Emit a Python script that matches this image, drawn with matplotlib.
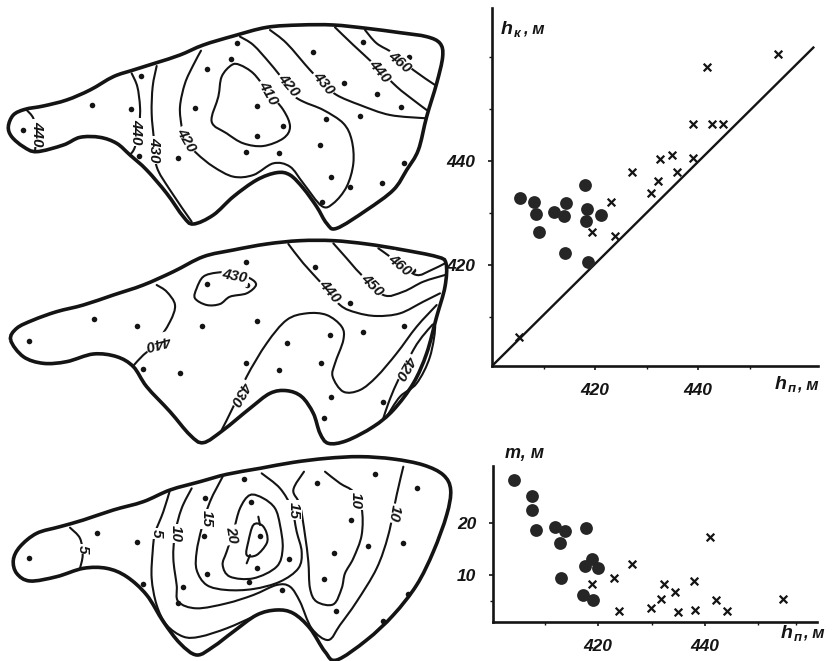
import matplotlib
matplotlib.use("Agg")
import matplotlib.pyplot as plt
import numpy as np
from matplotlib.path import Path
from matplotlib.patches import PathPatch

W, H = 833, 661
INK = "#141414"
FONT = "Liberation Sans"

# ---- scatter data ----
hn_cross_top = [455.5, 441.8, 439.0, 442.7, 444.9, 432.6, 434.9, 439.0, 427.1, 436.0, 432.2, 430.8, 423.2, 419.4, 423.9, 405.2]
hk_cross_top = [460.5, 458.1, 447.2, 447.2, 447.2, 440.4, 441.1, 440.5, 437.9, 437.9, 436.2, 433.8, 432.2, 426.3, 425.6, 406.2]
hn_dot_top = [405.4, 408.1, 408.6, 409.1, 412.1, 414.3, 414.0, 414.2, 418.5, 418.2, 421.2, 418.6, 418.1]
hk_dot_top = [432.95, 432.05, 429.8, 426.4, 430.1, 431.9, 429.5, 422.4, 430.7, 428.5, 429.7, 420.6, 435.3]

hn_cross_bot = [426.4, 422.9, 418.85, 423.85, 429.9, 431.8, 432.4, 434.4, 435.0, 438.0, 438.2, 440.9, 442.0, 444.1, 454.7]
m_cross_bot = [12.1, 9.4, 8.4, 3.25, 3.8, 5.5, 8.4, 6.8, 3.05, 8.9, 3.4, 17.2, 5.2, 3.1, 5.5]
hn_dot_bot = [404.3, 407.7, 407.7, 408.35, 412.0, 413.8, 412.85, 417.8, 413.0, 418.85, 417.5, 420.0, 417.2, 419.1]
m_dot_bot = [28.15, 25.0, 22.5, 18.65, 19.2, 18.5, 16.2, 18.9, 9.4, 13.05, 11.7, 11.3, 6.3, 5.3]

# ---- map 1 ----
m1_outline = [(25,320),(40,285),(75,268),(130,258),(200,240),(270,210),(340,170),(400,150),(470,128),(540,105),(610,75),(700,48),(800,22),(900,15),(1000,15),(1100,25),(1200,38),(1280,50),(1320,70),(1328,110),(1310,190),(1280,290),(1255,390),(1220,450),(1180,510),(1100,570),(1010,625),(980,610),(950,560),(910,505),(870,465),(830,458),(770,480),(700,530),(640,585),(580,612),(550,590),(500,520),(440,450),(390,405),(350,370),(300,352),(240,352),(190,375),(110,395),(70,380),(35,350)]
m1_contours = [
    [(80,270),(100,295),(108,340),(105,395)],
    [(395,160),(412,200),(420,260),(418,310),(405,380),(390,405)],
    [(470,138),(458,200),(455,280),(462,360),(470,440),(510,510),(575,605)],
    [(603,92),(580,135),(555,190),(540,260),(545,320),(555,360),(590,400),(640,440),(700,470),(760,465),(820,430),(870,440),(910,490),(965,558),(1000,550),(1040,500),(1060,430),(1055,360),(1030,310),(970,270),(910,245),(880,225),(850,180),(810,130),(760,75),(720,50)],
    [(810,30),(860,70),(930,150),(970,190),(1010,225),(1080,255),(1170,285),(1280,295)],
    [(1005,22),(1060,75),(1130,140),(1190,200),(1240,240),(1280,270)],
    [(1095,30),(1130,70),(1180,100),(1240,150),(1305,195)],
]
m1_closed = [[(695,135),(665,170),(655,230),(635,305),(680,340),(730,370),(790,378),(850,355),(870,320),(850,270),(800,210),(760,160),(720,135)]]
m1_labels = [("440",112,340,-90),("440",410,335,-90),("430",462,390,-90),("420",558,360,-60),("420",865,197,-50),("410",805,218,-60),("430",970,190,-50),("440",1140,155,-50),("460",1198,125,-40)]
m1_points = [(710,70),(938,97),(1090,65),(1227,110),(620,147),(693,117),(423,167),(275,255),(393,267),(585,263),(770,257),(1032,188),(1132,222),(1202,262),(1080,287),(978,298),(848,318),(771,349),(70,330),(960,375),(738,395),(838,400),(416,408),(535,413),(1213,428),(992,470),(1147,490),(1050,500),(965,545)]

# ---- map 2 ----
m2_outline = [(32,330),(50,295),(100,270),(170,245),(250,225),(340,195),(430,165),(520,125),(610,80),(700,60),(800,42),(900,32),(1000,32),(1100,42),(1200,58),(1310,80),(1338,100),(1335,170),(1310,260),(1280,370),(1240,460),(1180,540),(1120,590),(1040,632),(985,640),(960,610),(940,550),(905,500),(860,482),(810,490),(750,535),(670,600),(610,638),(570,615),(510,545),(440,470),(400,410),(350,380),(280,372),(200,395),(130,400),(70,380)]
m2_contours = [
    [(470,165),(500,185),(525,225),(510,275),(465,345),(430,375),(402,405)],
    [(665,600),(700,530),(740,440),(800,340),(860,270),(920,250),(980,255),(1025,290),(1030,330),(1005,400),(998,440),(1030,485),(1080,480),(1130,440),(1190,370),(1250,290),(1310,225)],
    [(865,42),(910,100),(960,155),(1020,225),(1070,248),(1130,258),(1200,250),(1270,215),(1320,190)],
    [(1000,40),(1040,85),(1080,130),(1150,195),(1210,185),(1270,155),(1335,135)],
    [(1135,55),(1170,80),(1200,105),(1250,135),(1290,122),(1335,100)],
    [(1150,565),(1165,520),(1190,460),(1240,360),(1275,310),(1305,285),(1290,380),(1250,460),(1200,500),(1160,560)],
]
m2_closed = [[(610,140),(590,175),(585,205),(620,225),(660,222),(690,200),(740,190),(768,165),(750,145),(700,128),(650,128)]]
m2_labels = [("440",478,335,195),("430",705,140,-10),("430",722,490,240),("440",990,185,-50),("450",1115,165,-45),("460",1200,105,-40),("420",1215,410,240)]
m2_points = [(737,95),(945,110),(1240,120),(622,162),(742,165),(283,267),(412,289),(607,289),(771,274),(1212,287),(1090,306),(990,316),(862,339),(87,333),(738,400),(962,400),(838,420),(430,417),(540,428),(993,502),(1148,517),(972,565),(1050,220)]

# ---- map 3 ----
m3_outline = [(40,345),(60,305),(110,265),(180,245),(250,225),(340,195),(430,170),(510,135),(600,110),(680,88),(780,70),(880,52),(980,40),(1080,35),(1180,42),(1270,60),(1330,90),(1352,135),(1340,210),(1300,320),(1250,420),(1180,510),(1100,585),(1010,645),(975,620),(930,550),(880,505),(830,495),(770,510),(700,560),(640,605),(590,630),(540,595),(490,530),(440,450),(380,395),(320,370),(250,370),(170,395),(90,408),(50,385)]
m3_contours = [
    [(210,248),(240,280),(248,330),(240,370)],
    [(510,135),(490,200),(465,265),(458,320),(455,400),(470,480),(500,540),(550,575),(600,575),(680,550),(760,515)],
    [(575,130),(545,190),(525,265),(520,340),(530,420),(535,470),(590,490),(680,475),(760,450),(830,420),(870,425),(900,470),(935,550),(985,585),(1020,540),(1070,470),(1130,370),(1165,270),(1190,150),(1210,65)],
    [(668,95),(630,170),(605,250),(590,320),(590,375),(620,420),(680,435),(760,432),(840,410),(895,370),(905,320),(890,260),(875,190),(840,130),(785,85)],
    [(912,80),(880,135),(900,180),(915,270),(925,350),(930,430),(950,470),(1000,478),(1025,430),(1035,385),(1060,340),(1085,270),(1085,190),(1060,140),(1020,115),(975,80)],
    [(775,215),(780,240)],
    [(740,355),(750,330)],
]
m3_closed = [
    [(750,150),(720,190),(700,260),(680,320),(668,360),(690,395),(760,400),(830,365),(848,310),(840,240),(825,190),(790,160)],
    [(760,240),(745,290),(740,330),(770,330),(800,295),(800,265),(785,240)],
]
m3_labels = [("5",248,312,-90),("5",470,265,-90),("10",527,265,-90),("15",620,222,-90),("20",695,270,-80),("15",880,195,-90),("10",1068,165,-90),("10",1183,205,-100)]
m3_points = [(732,103),(950,113),(1125,88),(1250,130),(615,158),(752,170),(290,263),(410,290),(612,272),(780,272),(1053,226),(1104,303),(1210,295),(1003,323),(868,343),(86,338),(770,370),(620,388),(748,412),(973,403),(548,425),(430,417),(847,435),(535,475),(1225,448),(1008,498),(1150,528)]

# ---- ticks ----
top_x_major = [420, 440]
top_x_minor = [410, 430, 450]
top_y_major = [420, 440]
top_y_minor = [410, 430, 450, 460]
bot_x_major = [420, 440]
bot_x_minor = [410, 430, 450, 457]
bot_y_major = [10, 20]
bot_y_minor = [5]


def smooth_path(pts, closed=False):
    """Catmull-Rom control points so the Path is drawn as Bezier curves."""
    p = np.asarray(pts, float)
    n = len(p)
    if closed:
        idx = [(i % n) for i in range(n + 1)]
    else:
        idx = list(range(n))
    verts = [p[idx[0]]]
    codes = [Path.MOVETO]
    for k in range(len(idx) - 1):
        i, j = idx[k], idx[k + 1]
        a = p[(i - 1) % n] if closed or i > 0 else p[i]
        d = p[(j + 1) % n] if closed or j < n - 1 else p[j]
        verts += [p[i] + (p[j] - a) / 6, p[j] - (d - p[i]) / 6, p[j]]
        codes += [Path.CURVE4] * 3
    return Path(verts, codes)


def px_axes(fig, left, top, width, height):
    return fig.add_axes([left / W, 1 - (top + height) / H, width / W, height / H])


def draw_map(fig, top, outline, contours, closed, labels, points):
    ax = px_axes(fig, 0, top, 460, 216)
    ax.set_xlim(0, 1380)
    ax.set_ylim(648, 0)
    ax.axis("off")
    ax.patch.set_alpha(0)
    for c in contours:
        ax.add_patch(PathPatch(smooth_path(c), fill=False, ec=INK, lw=1.5, capstyle="round"))
    for c in closed:
        ax.add_patch(PathPatch(smooth_path(c, True), fill=False, ec=INK, lw=1.5))
    ax.add_patch(PathPatch(smooth_path(outline, True), fill=False, ec=INK, lw=2.6))
    xs, ys = zip(*points)
    ax.scatter(xs, ys, s=16, c=INK, linewidths=0, zorder=3)
    for t, x, y, r in labels:
        ax.text(x, y, t, rotation=r, rotation_mode="anchor", ha="center", va="center",
                fontsize=11, family=FONT, weight="bold", style="italic", color=INK, zorder=4,
                bbox=dict(boxstyle="square,pad=0.08", fc="white", ec="none"))


def style_scatter(ax, xmaj, xmin, ymaj, ymin):
    for s in ("top", "right"):
        ax.spines[s].set_visible(False)
    for s in ("left", "bottom"):
        ax.spines[s].set_linewidth(1.9)
        ax.spines[s].set_color(INK)
    ax.patch.set_alpha(0)
    ax.set_xticks(xmaj)
    ax.set_xticks(xmin, minor=True)
    ax.set_yticks(ymaj)
    ax.set_yticks(ymin, minor=True)
    ax.tick_params(which="major", length=3, width=1.2, color=INK, pad=9, labelsize=12.5, labelcolor=INK)
    ax.tick_params(which="minor", length=2, width=1.0, color=INK)
    for lab in ax.get_xticklabels() + ax.get_yticklabels():
        lab.set_family(FONT)
        lab.set_weight("bold")
        lab.set_style("italic")


def axis_label(fig, x, y, main, sub, rest):
    kw = dict(family=FONT, style="italic", weight="bold", color=INK, transform=fig.transFigure, va="baseline")
    fig.text(x / W, 1 - y / H, main, fontsize=14, **kw)
    fig.text((x + 13) / W, 1 - (y + 3) / H, sub, fontsize=9.5, **kw)
    fig.text((x + 22) / W, 1 - y / H, rest, fontsize=12, **kw)


fig = plt.figure(figsize=(W / 100, H / 100), dpi=100, facecolor="white")

draw_map(fig, 20, m1_outline, m1_contours, m1_closed, m1_labels, m1_points)
draw_map(fig, 230, m2_outline, m2_contours, m2_closed, m2_labels, m2_points)
draw_map(fig, 445, m3_outline, m3_contours, m3_closed, m3_labels, m3_points)

# top scatter
ax1 = px_axes(fig, 492, 8, 326, 358)
ax1.set_xlim(400, 463.3)
ax1.set_ylim(400.6, 469.4)
ax1.plot([400, 462.4], [400.6, 461.8], color=INK, lw=1.7, zorder=1)
ax1.scatter(hn_dot_top, hk_dot_top, s=85, c="#262626", linewidths=0, zorder=2)
ax1.scatter(hn_cross_top, hk_cross_top, s=30, marker="x", c=INK, linewidths=1.6, zorder=3)
style_scatter(ax1, top_x_major, top_x_minor, top_y_major, top_y_minor)

# bottom scatter
ax2 = px_axes(fig, 493, 466, 324, 156)
ax2.set_xlim(400.3, 461)
ax2.set_ylim(1.08, 30.8)
ax2.scatter(hn_dot_bot, m_dot_bot, s=85, c="#262626", linewidths=0, zorder=2)
ax2.scatter(hn_cross_bot, m_cross_bot, s=30, marker="x", c=INK, linewidths=1.6, zorder=3)
style_scatter(ax2, bot_x_major, bot_x_minor, bot_y_major, bot_y_minor)

axis_label(fig, 501, 34, "h", "к", ", м")
axis_label(fig, 775, 389, "h", "п", ", м")
axis_label(fig, 781, 638, "h", "п", ", м")
fig.text(505 / W, 1 - 458 / H, "т, м", family=FONT, style="italic", weight="bold", fontsize=13, color=INK)

fig.savefig("out.png", dpi=100, facecolor="white")
